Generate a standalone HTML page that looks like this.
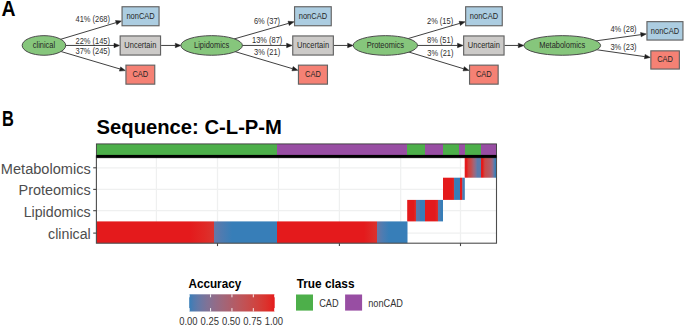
<!DOCTYPE html>
<html><head><meta charset="utf-8"><title>CAD classification sequence</title>
<style>
html,body{margin:0;padding:0;background:#fff;width:685px;height:327px;overflow:hidden}
svg{display:block}
text{font-family:"Liberation Sans", sans-serif}
</style></head><body>
<svg width="685" height="327" viewBox="0 0 685 327">
<defs>
<linearGradient id="r1" gradientUnits="userSpaceOnUse" x1="96.4" y1="0" x2="407.5" y2="0"><stop offset="0.0000" stop-color="#e41a1c"/><stop offset="0.3009" stop-color="#e41a1c"/><stop offset="0.3459" stop-color="#e02825"/><stop offset="0.3783" stop-color="#d93530"/><stop offset="0.3783" stop-color="#6877a5"/><stop offset="0.3877" stop-color="#5c7aab"/><stop offset="0.4005" stop-color="#507bb0"/><stop offset="0.4359" stop-color="#377eb8"/><stop offset="0.5799" stop-color="#377eb8"/><stop offset="0.5799" stop-color="#e41a1c"/><stop offset="0.8602" stop-color="#e41a1c"/><stop offset="0.9016" stop-color="#db322d"/><stop offset="0.9016" stop-color="#6877a5"/><stop offset="0.9212" stop-color="#4c7cb2"/><stop offset="0.9405" stop-color="#377eb8"/><stop offset="1.0000" stop-color="#377eb8"/></linearGradient>
<linearGradient id="r2" gradientUnits="userSpaceOnUse" x1="407.2" y1="0" x2="443.0" y2="0"><stop offset="0.0000" stop-color="#e41a1c"/><stop offset="0.1760" stop-color="#e41a1c"/><stop offset="0.2346" stop-color="#dd2e2a"/><stop offset="0.2346" stop-color="#5c7aab"/><stop offset="0.3436" stop-color="#507bb0"/><stop offset="0.3715" stop-color="#377eb8"/><stop offset="0.5028" stop-color="#377eb8"/><stop offset="0.5028" stop-color="#e41a1c"/><stop offset="0.7765" stop-color="#e41a1c"/><stop offset="0.8492" stop-color="#de2c28"/><stop offset="0.8492" stop-color="#5c7aab"/><stop offset="0.9162" stop-color="#507bb0"/><stop offset="0.9441" stop-color="#377eb8"/><stop offset="1.0000" stop-color="#377eb8"/></linearGradient>
<linearGradient id="r3" gradientUnits="userSpaceOnUse" x1="443.0" y1="0" x2="464.8" y2="0"><stop offset="0.0000" stop-color="#e41a1c"/><stop offset="0.4128" stop-color="#e41a1c"/><stop offset="0.4908" stop-color="#e02825"/><stop offset="0.4908" stop-color="#547bae"/><stop offset="0.5734" stop-color="#377eb8"/><stop offset="0.7615" stop-color="#377eb8"/><stop offset="0.7615" stop-color="#e41a1c"/><stop offset="0.8853" stop-color="#e41a1c"/><stop offset="0.8853" stop-color="#916c89"/><stop offset="0.9083" stop-color="#507bb0"/><stop offset="1.0000" stop-color="#377eb8"/></linearGradient>
<linearGradient id="r4" gradientUnits="userSpaceOnUse" x1="464.7" y1="0" x2="496.5" y2="0"><stop offset="0.0000" stop-color="#e41a1c"/><stop offset="0.0692" stop-color="#e41a1c"/><stop offset="0.1038" stop-color="#d63a35"/><stop offset="0.1981" stop-color="#c74c4c"/><stop offset="0.2767" stop-color="#a86272"/><stop offset="0.3239" stop-color="#916c89"/><stop offset="0.3711" stop-color="#7076a0"/><stop offset="0.4025" stop-color="#5c7aab"/><stop offset="0.5094" stop-color="#5c7aab"/><stop offset="0.5094" stop-color="#e41a1c"/><stop offset="0.5723" stop-color="#e41a1c"/><stop offset="0.6006" stop-color="#d63a35"/><stop offset="0.6384" stop-color="#c74c4c"/><stop offset="0.7799" stop-color="#b65a63"/><stop offset="0.8270" stop-color="#a86272"/><stop offset="0.8742" stop-color="#916c89"/><stop offset="0.9214" stop-color="#6279a8"/><stop offset="0.9686" stop-color="#377eb8"/><stop offset="1.0000" stop-color="#377eb8"/></linearGradient>
<linearGradient id="cb" gradientUnits="userSpaceOnUse" x1="96.4" y1="0" x2="496.5" y2="0"><stop offset="0.0000" stop-color="#4daf4a"/><stop offset="0.4511" stop-color="#4daf4a"/><stop offset="0.4511" stop-color="#984ea3"/><stop offset="0.7766" stop-color="#984ea3"/><stop offset="0.7766" stop-color="#4daf4a"/><stop offset="0.8218" stop-color="#4daf4a"/><stop offset="0.8218" stop-color="#984ea3"/><stop offset="0.8668" stop-color="#984ea3"/><stop offset="0.8668" stop-color="#4daf4a"/><stop offset="0.9073" stop-color="#4daf4a"/><stop offset="0.9073" stop-color="#984ea3"/><stop offset="0.9208" stop-color="#984ea3"/><stop offset="0.9208" stop-color="#4daf4a"/><stop offset="0.9615" stop-color="#4daf4a"/><stop offset="0.9615" stop-color="#984ea3"/><stop offset="1.0000" stop-color="#984ea3"/></linearGradient>
<linearGradient id="lg" x1="0" y1="0" x2="1" y2="0"><stop offset="0.000" stop-color="#377eb8"/><stop offset="0.050" stop-color="#507bb0"/><stop offset="0.100" stop-color="#6279a8"/><stop offset="0.150" stop-color="#7076a0"/><stop offset="0.200" stop-color="#7d7398"/><stop offset="0.250" stop-color="#877091"/><stop offset="0.300" stop-color="#916c89"/><stop offset="0.350" stop-color="#996981"/><stop offset="0.400" stop-color="#a16679"/><stop offset="0.450" stop-color="#a86272"/><stop offset="0.500" stop-color="#af5e6a"/><stop offset="0.550" stop-color="#b65a63"/><stop offset="0.600" stop-color="#bc565b"/><stop offset="0.650" stop-color="#c25154"/><stop offset="0.700" stop-color="#c74c4c"/><stop offset="0.750" stop-color="#cc4745"/><stop offset="0.800" stop-color="#d1413d"/><stop offset="0.850" stop-color="#d63a35"/><stop offset="0.900" stop-color="#db322d"/><stop offset="0.950" stop-color="#e02825"/><stop offset="1.000" stop-color="#e41a1c"/></linearGradient>
</defs>
<text transform="translate(1.60 15.50) scale(0.9 1.0)" font-size="21.6" font-weight="bold" fill="#000">A</text>
<line x1="57.17" y1="40.35" x2="116.14" y2="22.61" stroke="#1e1e1e" stroke-width="0.85"/>
<polygon points="121.50,21.00 116.77,24.72 115.50,20.51" fill="#1e1e1e" stroke="#1e1e1e" stroke-width="0.5"/>
<line x1="57.46" y1="50.46" x2="120.03" y2="69.01" stroke="#1e1e1e" stroke-width="0.85"/>
<polygon points="125.40,70.60 119.41,71.12 120.66,66.90" fill="#1e1e1e" stroke="#1e1e1e" stroke-width="0.5"/>
<line x1="62.70" y1="45.45" x2="114.00" y2="45.45" stroke="#1e1e1e" stroke-width="0.85"/>
<polygon points="119.60,45.45 114.00,47.65 114.00,43.25" fill="#1e1e1e" stroke="#1e1e1e" stroke-width="0.5"/>
<line x1="231.15" y1="39.80" x2="288.62" y2="23.34" stroke="#1e1e1e" stroke-width="0.85"/>
<polygon points="294.00,21.80 289.22,25.46 288.01,21.23" fill="#1e1e1e" stroke="#1e1e1e" stroke-width="0.5"/>
<line x1="231.17" y1="50.46" x2="292.53" y2="68.70" stroke="#1e1e1e" stroke-width="0.85"/>
<polygon points="297.90,70.30 291.91,70.81 293.16,66.60" fill="#1e1e1e" stroke="#1e1e1e" stroke-width="0.5"/>
<line x1="239.40" y1="45.45" x2="286.60" y2="45.45" stroke="#1e1e1e" stroke-width="0.85"/>
<polygon points="292.20,45.45 286.60,47.65 286.60,43.25" fill="#1e1e1e" stroke="#1e1e1e" stroke-width="0.5"/>
<line x1="404.86" y1="39.53" x2="459.73" y2="23.38" stroke="#1e1e1e" stroke-width="0.85"/>
<polygon points="465.10,21.80 460.35,25.49 459.11,21.27" fill="#1e1e1e" stroke="#1e1e1e" stroke-width="0.5"/>
<line x1="404.87" y1="50.83" x2="463.64" y2="68.77" stroke="#1e1e1e" stroke-width="0.85"/>
<polygon points="469.00,70.40 463.00,70.87 464.29,66.66" fill="#1e1e1e" stroke="#1e1e1e" stroke-width="0.5"/>
<line x1="414.50" y1="45.45" x2="457.50" y2="45.45" stroke="#1e1e1e" stroke-width="0.85"/>
<polygon points="463.10,45.45 457.50,47.65 457.50,43.25" fill="#1e1e1e" stroke="#1e1e1e" stroke-width="0.5"/>
<line x1="161.10" y1="45.45" x2="175.30" y2="45.45" stroke="#1e1e1e" stroke-width="0.85"/>
<polygon points="180.90,45.45 175.30,47.65 175.30,43.25" fill="#1e1e1e" stroke="#1e1e1e" stroke-width="0.5"/>
<line x1="333.90" y1="45.45" x2="347.60" y2="45.45" stroke="#1e1e1e" stroke-width="0.85"/>
<polygon points="353.20,45.45 347.60,47.65 347.60,43.25" fill="#1e1e1e" stroke="#1e1e1e" stroke-width="0.5"/>
<line x1="504.60" y1="45.45" x2="518.30" y2="45.45" stroke="#1e1e1e" stroke-width="0.85"/>
<polygon points="523.90,45.45 518.30,47.65 518.30,43.25" fill="#1e1e1e" stroke="#1e1e1e" stroke-width="0.5"/>
<line x1="592.44" y1="41.35" x2="640.85" y2="34.67" stroke="#1e1e1e" stroke-width="0.85"/>
<polygon points="646.40,33.90 641.15,36.84 640.55,32.49" fill="#1e1e1e" stroke="#1e1e1e" stroke-width="0.5"/>
<line x1="592.44" y1="49.13" x2="644.76" y2="56.61" stroke="#1e1e1e" stroke-width="0.85"/>
<polygon points="650.30,57.40 644.45,58.79 645.07,54.43" fill="#1e1e1e" stroke="#1e1e1e" stroke-width="0.5"/>
<ellipse cx="43.95" cy="45.45" rx="21.75" ry="9.8" fill="#86c67c" stroke="#4a4a4a" stroke-width="1.0"/>
<text transform="translate(43.95 48.15) scale(0.87 1.0)" font-size="8.6" text-anchor="middle" fill="#262626">clinical</text>
<rect x="122.05" y="6.75" width="37.00" height="19.00" fill="#accde1" stroke="#626262" stroke-width="1.15"/>
<text transform="translate(140.55 19.15) scale(0.87 1.0)" font-size="8.6" text-anchor="middle" fill="#262626">nonCAD</text>
<rect x="120.14999999999999" y="35.949999999999996" width="40.40" height="19.10" fill="#cccac8" stroke="#626262" stroke-width="1.15"/>
<text transform="translate(140.35 48.40) scale(0.87 1.0)" font-size="8.6" text-anchor="middle" fill="#262626">Uncertain</text>
<rect x="125.95" y="65.14999999999999" width="28.80" height="19.00" fill="#f58174" stroke="#626262" stroke-width="1.15"/>
<text transform="translate(140.35 76.55) scale(0.87 1.0)" font-size="8.6" text-anchor="middle" fill="#262626">CAD</text>
<ellipse cx="211.65" cy="45.45" rx="30.75" ry="9.8" fill="#86c67c" stroke="#4a4a4a" stroke-width="1.0"/>
<text transform="translate(211.65 48.15) scale(0.87 1.0)" font-size="8.6" text-anchor="middle" fill="#262626">Lipidomics</text>
<rect x="294.55" y="6.75" width="36.70" height="19.00" fill="#accde1" stroke="#626262" stroke-width="1.15"/>
<text transform="translate(312.90 19.15) scale(0.87 1.0)" font-size="8.6" text-anchor="middle" fill="#262626">nonCAD</text>
<rect x="292.75" y="35.949999999999996" width="40.60" height="19.10" fill="#cccac8" stroke="#626262" stroke-width="1.15"/>
<text transform="translate(313.05 48.40) scale(0.87 1.0)" font-size="8.6" text-anchor="middle" fill="#262626">Uncertain</text>
<rect x="298.45" y="65.14999999999999" width="29.00" height="19.00" fill="#f58174" stroke="#626262" stroke-width="1.15"/>
<text transform="translate(312.95 76.55) scale(0.87 1.0)" font-size="8.6" text-anchor="middle" fill="#262626">CAD</text>
<ellipse cx="385.35" cy="45.45" rx="32.15" ry="9.8" fill="#86c67c" stroke="#4a4a4a" stroke-width="1.0"/>
<text transform="translate(385.35 48.15) scale(0.87 1.0)" font-size="8.6" text-anchor="middle" fill="#262626">Proteomics</text>
<rect x="465.65000000000003" y="6.75" width="36.60" height="19.00" fill="#accde1" stroke="#626262" stroke-width="1.15"/>
<text transform="translate(483.95 19.15) scale(0.87 1.0)" font-size="8.6" text-anchor="middle" fill="#262626">nonCAD</text>
<rect x="463.65000000000003" y="35.949999999999996" width="40.40" height="19.10" fill="#cccac8" stroke="#626262" stroke-width="1.15"/>
<text transform="translate(483.85 48.40) scale(0.87 1.0)" font-size="8.6" text-anchor="middle" fill="#262626">Uncertain</text>
<rect x="469.55" y="65.14999999999999" width="28.60" height="19.00" fill="#f58174" stroke="#626262" stroke-width="1.15"/>
<text transform="translate(483.85 76.55) scale(0.87 1.0)" font-size="8.6" text-anchor="middle" fill="#262626">CAD</text>
<ellipse cx="562.25" cy="45.45" rx="38.35" ry="9.8" fill="#86c67c" stroke="#4a4a4a" stroke-width="1.0"/>
<text transform="translate(562.25 48.15) scale(0.87 1.0)" font-size="8.6" text-anchor="middle" fill="#262626">Metabolomics</text>
<rect x="646.9499999999999" y="21.650000000000002" width="36.00" height="18.40" fill="#accde1" stroke="#626262" stroke-width="1.15"/>
<text transform="translate(664.95 33.75) scale(0.87 1.0)" font-size="8.6" text-anchor="middle" fill="#262626">nonCAD</text>
<rect x="650.8499999999999" y="50.849999999999994" width="28.50" height="18.20" fill="#f58174" stroke="#626262" stroke-width="1.15"/>
<text transform="translate(665.10 61.85) scale(0.87 1.0)" font-size="8.6" text-anchor="middle" fill="#262626">CAD</text>
<text transform="translate(75.50 21.80) scale(0.87 1.0)" font-size="8.6" fill="#2e2e2e">41% (268)</text>
<text transform="translate(75.50 43.50) scale(0.87 1.0)" font-size="8.6" fill="#2e2e2e">22% (145)</text>
<text transform="translate(75.50 54.20) scale(0.87 1.0)" font-size="8.6" fill="#2e2e2e">37% (245)</text>
<text transform="translate(253.90 24.00) scale(0.87 1.0)" font-size="8.6" fill="#2e2e2e">6% (37)</text>
<text transform="translate(252.00 43.40) scale(0.87 1.0)" font-size="8.6" fill="#2e2e2e">13% (87)</text>
<text transform="translate(254.00 55.10) scale(0.87 1.0)" font-size="8.6" fill="#2e2e2e">3% (21)</text>
<text transform="translate(427.00 23.80) scale(0.87 1.0)" font-size="8.6" fill="#2e2e2e">2% (15)</text>
<text transform="translate(427.00 43.40) scale(0.87 1.0)" font-size="8.6" fill="#2e2e2e">8% (51)</text>
<text transform="translate(427.30 55.50) scale(0.87 1.0)" font-size="8.6" fill="#2e2e2e">3% (21)</text>
<text transform="translate(610.40 32.00) scale(0.87 1.0)" font-size="8.6" fill="#2e2e2e">4% (28)</text>
<text transform="translate(610.40 49.60) scale(0.87 1.0)" font-size="8.6" fill="#2e2e2e">3% (23)</text>
<text transform="translate(2.10 125.50) scale(0.74 1.0)" font-size="22.2" font-weight="bold" fill="#000">B</text>
<text transform="translate(96.60 134.20) scale(0.963 1.0)" font-size="21.0" font-weight="bold" fill="#000">Sequence: C-L-P-M</text>
<rect x="96.4" y="156.0" width="400.1" height="87.19999999999999" fill="#fff"/>
<line x1="156.4" y1="156.0" x2="156.4" y2="243.2" stroke="#eff0f0" stroke-width="1.2"/>
<line x1="278.5" y1="156.0" x2="278.5" y2="243.2" stroke="#eff0f0" stroke-width="1.2"/>
<line x1="400.7" y1="156.0" x2="400.7" y2="243.2" stroke="#eff0f0" stroke-width="1.2"/>
<line x1="217.5" y1="156.0" x2="217.5" y2="243.2" stroke="#eff0f0" stroke-width="1.3"/>
<line x1="339.4" y1="156.0" x2="339.4" y2="243.2" stroke="#eff0f0" stroke-width="1.3"/>
<line x1="460.5" y1="156.0" x2="460.5" y2="243.2" stroke="#eff0f0" stroke-width="1.3"/>
<line x1="96.4" y1="167.8" x2="496.5" y2="167.8" stroke="#eff0f0" stroke-width="1.3"/>
<line x1="96.4" y1="189.4" x2="496.5" y2="189.4" stroke="#eff0f0" stroke-width="1.3"/>
<line x1="96.4" y1="210.7" x2="496.5" y2="210.7" stroke="#eff0f0" stroke-width="1.3"/>
<line x1="96.4" y1="233.1" x2="496.5" y2="233.1" stroke="#eff0f0" stroke-width="1.3"/>
<rect x="96.4" y="221.4" width="311.10" height="21.80" fill="url(#r1)"/>
<rect x="407.2" y="199.9" width="35.80" height="21.50" fill="url(#r2)"/>
<rect x="443.0" y="177.7" width="21.80" height="22.20" fill="url(#r3)"/>
<rect x="464.7" y="156.0" width="31.80" height="21.70" fill="url(#r4)"/>
<rect x="96.4" y="156.0" width="400.1" height="87.19999999999999" fill="none" stroke="#4d4d4d" stroke-width="1.1"/>
<rect x="96.4" y="144.0" width="400.1" height="11.2" fill="url(#cb)"/>
<rect x="96.4" y="143.9" width="400.1" height="13.8" fill="none" stroke="#3a3a3a" stroke-width="0.9"/>
<rect x="96.4" y="154.9" width="400.1" height="2.9" fill="#000"/>
<line x1="93.2" y1="167.8" x2="96.4" y2="167.8" stroke="#444" stroke-width="1.1"/>
<line x1="93.2" y1="189.4" x2="96.4" y2="189.4" stroke="#444" stroke-width="1.1"/>
<line x1="93.2" y1="210.7" x2="96.4" y2="210.7" stroke="#444" stroke-width="1.1"/>
<line x1="93.2" y1="233.1" x2="96.4" y2="233.1" stroke="#444" stroke-width="1.1"/>
<line x1="217.5" y1="243.2" x2="217.5" y2="246.1" stroke="#444" stroke-width="1.1"/>
<line x1="339.4" y1="243.2" x2="339.4" y2="246.1" stroke="#444" stroke-width="1.1"/>
<line x1="460.5" y1="243.2" x2="460.5" y2="246.1" stroke="#444" stroke-width="1.1"/>
<text transform="translate(90.70 173.90) scale(1.027 1.06)" font-size="14.2" text-anchor="end" fill="#4d4d4d">Metabolomics</text>
<text transform="translate(90.70 194.60) scale(1.016 1.06)" font-size="14.2" text-anchor="end" fill="#4d4d4d">Proteomics</text>
<text transform="translate(90.70 216.80) scale(1.0 1.06)" font-size="14.2" text-anchor="end" fill="#4d4d4d">Lipidomics</text>
<text transform="translate(90.70 238.80) scale(1.0 1.06)" font-size="14.2" text-anchor="end" fill="#4d4d4d">clinical</text>
<text transform="translate(188.50 287.70) scale(0.975 1.0)" font-size="12.0" font-weight="bold" fill="#000">Accuracy</text>
<rect x="189.2" y="294.3" width="85.5" height="17.19999999999999" fill="url(#lg)"/>
<line x1="189.20" y1="294.3" x2="189.20" y2="297.3" stroke="#fff" stroke-width="0.9"/>
<line x1="189.20" y1="308.1" x2="189.20" y2="311.5" stroke="#fff" stroke-width="0.9"/>
<text transform="translate(188.40 325.30) scale(0.92 1.0)" font-size="10.3" text-anchor="middle" fill="#333">0.00</text>
<line x1="210.57" y1="294.3" x2="210.57" y2="297.3" stroke="#fff" stroke-width="0.9"/>
<line x1="210.57" y1="308.1" x2="210.57" y2="311.5" stroke="#fff" stroke-width="0.9"/>
<text transform="translate(209.77 325.30) scale(0.92 1.0)" font-size="10.3" text-anchor="middle" fill="#333">0.25</text>
<line x1="231.95" y1="294.3" x2="231.95" y2="297.3" stroke="#fff" stroke-width="0.9"/>
<line x1="231.95" y1="308.1" x2="231.95" y2="311.5" stroke="#fff" stroke-width="0.9"/>
<text transform="translate(231.15 325.30) scale(0.92 1.0)" font-size="10.3" text-anchor="middle" fill="#333">0.50</text>
<line x1="253.32" y1="294.3" x2="253.32" y2="297.3" stroke="#fff" stroke-width="0.9"/>
<line x1="253.32" y1="308.1" x2="253.32" y2="311.5" stroke="#fff" stroke-width="0.9"/>
<text transform="translate(252.52 325.30) scale(0.92 1.0)" font-size="10.3" text-anchor="middle" fill="#333">0.75</text>
<line x1="274.70" y1="294.3" x2="274.70" y2="297.3" stroke="#fff" stroke-width="0.9"/>
<line x1="274.70" y1="308.1" x2="274.70" y2="311.5" stroke="#fff" stroke-width="0.9"/>
<text transform="translate(273.90 325.30) scale(0.92 1.0)" font-size="10.3" text-anchor="middle" fill="#333">1.00</text>
<text transform="translate(296.70 287.50) scale(0.985 1.0)" font-size="12.0" font-weight="bold" fill="#000">True class</text>
<rect x="296" y="294.5" width="17" height="16.1" fill="#4daf4a"/>
<text transform="translate(319.20 307.20) scale(0.92 1.0)" font-size="10.0" fill="#333">CAD</text>
<rect x="345.1" y="294.5" width="17" height="16.1" fill="#984ea3"/>
<text transform="translate(368.20 307.20) scale(0.92 1.0)" font-size="10.0" fill="#333">nonCAD</text>
</svg>
</body></html>
